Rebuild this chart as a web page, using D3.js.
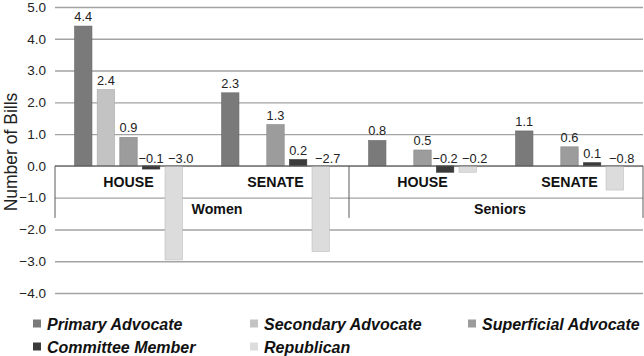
<!DOCTYPE html>
<html>
<head>
<meta charset="utf-8">
<script src="https://cdn.jsdelivr.net/npm/d3@7"></script>
<style>
  html, body { margin: 0; padding: 0; background: #fff; }
  svg { display: block; font-family: "Liberation Sans", Arial, Helvetica, sans-serif; }
</style>
</head>
<body>
<svg id="chart" width="644" height="356"></svg>
<script>
// ---- data ----
const groups = ["Women", "Seniors"];
const chambers = ["HOUSE", "SENATE"];
const series = ["Primary Advocate", "Secondary Advocate", "Superficial Advocate", "Committee Member", "Republican"];
const colors = ["#7a7a7a", "#c3c3c3", "#9c9c9c", "#3b3b3b", "#dcdcdc"];
// values per series, in order: Women HOUSE, Women SENATE, Seniors HOUSE, Seniors SENATE (null = no bar)
const primaryAdvocate     = [4.4, 2.3, 0.8, 1.1];
const secondaryAdvocate   = [2.4, null, null, null];
const superficialAdvocate = [0.9, 1.3, 0.5, 0.6];
const committeeMember     = [-0.1, 0.2, -0.2, 0.1];
const republican          = [-2.96, -2.7, -0.2, -0.76];
const yTicks = [5, 4, 3, 2, 1, 0, -1, -2, -3, -4];
const yTitle = "Number of Bills";

const seriesValues = [primaryAdvocate, secondaryAdvocate, superficialAdvocate, committeeMember, republican];
const categories = [];
groups.forEach(g => chambers.forEach(c => categories.push(g + "|" + c)));

// ---- layout ----
const svg = d3.select("#chart");
const plotLeft = 55, plotRight = 643;
const y = d3.scaleLinear().domain([-4, 5]).range([293, 7]);
const xCat = d3.scaleBand().domain(categories).range([plotLeft, plotRight]).padding(0);
const xGroup = d3.scaleBand().domain(groups).range([plotLeft, plotRight]).padding(0);
const xInner = d3.scaleBand().domain(series).range([0, xCat.bandwidth()])
  .paddingInner(0.23).paddingOuter(0.865);
const fmt = d3.format(".1f");

// gridlines
const yAxis = d3.axisLeft(y).tickValues(yTicks).tickFormat(fmt)
  .tickSize(-(plotRight - plotLeft)).tickPadding(9);
const gy = svg.append("g").attr("transform", `translate(${plotLeft},0)`).call(yAxis);
gy.select(".domain").remove();
gy.selectAll(".tick line").attr("stroke", "#a3a3a3").attr("stroke-width", 1.4);
gy.selectAll(".tick text").attr("font-size", 13.5).attr("fill", "#222");

// y title
svg.append("text")
  .attr("transform", `translate(17,${(y(5) + y(-4)) / 2 + 2}) rotate(-90)`)
  .attr("text-anchor", "middle")
  .attr("font-size", 17.5)
  .attr("fill", "#222")
  .text(yTitle);

// bars
const bars = [];
categories.forEach((cat, ci) => {
  series.forEach((s, si) => {
    const v = seriesValues[si][ci];
    if (v !== null && v !== undefined) bars.push({cat, s, si, v});
  });
});

svg.append("g").selectAll("rect").data(bars).join("rect")
  .attr("x", d => xCat(d.cat) + xInner(d.s))
  .attr("width", xInner.bandwidth())
  .attr("y", d => y(Math.max(0, d.v)))
  .attr("height", d => Math.abs(y(d.v) - y(0)))
  .attr("fill", d => colors[d.si])
  .attr("stroke", d => d3.color(colors[d.si]).darker(0.4))
  .attr("stroke-width", 0.6);

// category axis structure
const ax = svg.append("g").attr("stroke", "#5a5a5a").attr("stroke-width", 1);
ax.append("line").attr("x1", plotLeft).attr("x2", plotRight).attr("y1", y(0)).attr("y2", y(0));
const groupBounds = [plotLeft].concat(groups.map(g => xGroup(g) + xGroup.bandwidth()));
ax.selectAll(".sep").data(groupBounds).join("line")
  .attr("x1", d => d).attr("x2", d => d)
  .attr("y1", y(0)).attr("y2", y(0) + 52);

// value labels (negative last-series labels sit slightly right, as in the source)
svg.append("g").selectAll("text").data(bars).join("text")
  .attr("x", d => xCat(d.cat) + xInner(d.s) + xInner.bandwidth() / 2 + (d.v < 0 && d.si === 4 ? 7 : 0))
  .attr("y", d => d.v >= 0 ? y(d.v) - 5 : y(0) - 3)
  .attr("text-anchor", "middle")
  .attr("font-size", 12.8)
  .attr("fill", "#222")
  .text(d => fmt(d.v));

// chamber labels
svg.append("g").selectAll("text").data(categories).join("text")
  .attr("x", d => xCat(d) + xCat.bandwidth() / 2)
  .attr("y", y(0) + 21)
  .attr("text-anchor", "middle")
  .attr("font-size", 14.2)
  .attr("font-weight", "bold")
  .attr("fill", "#111")
  .text(d => d.split("|")[1]);

// group labels
svg.append("g").selectAll("text").data(groups).join("text")
  .attr("x", (d, i) => xGroup(d) + xGroup.bandwidth() / 2 + (i === 0 ? 15 : 4))
  .attr("y", y(0) + 48)
  .attr("text-anchor", "middle")
  .attr("font-size", 14.2)
  .attr("font-weight", "bold")
  .attr("fill", "#111")
  .text(d => d);

// legend
const legendCols = [33, 250, 468];
const legendRows = [324, 347];
const lg = svg.append("g").selectAll("g").data(series).join("g")
  .attr("transform", (d, i) => `translate(${legendCols[i % 3]},${legendRows[Math.floor(i / 3)]})`);
lg.append("rect").attr("x", 0).attr("y", -4.5).attr("width", 8).attr("height", 8)
  .attr("fill", (d, i) => colors[i]);
lg.append("text").attr("x", 14).attr("y", 5.5)
  .attr("font-size", 16).attr("font-weight", "bold").attr("font-style", "italic")
  .attr("fill", "#111")
  .text(d => d);
</script>
</body>
</html>
